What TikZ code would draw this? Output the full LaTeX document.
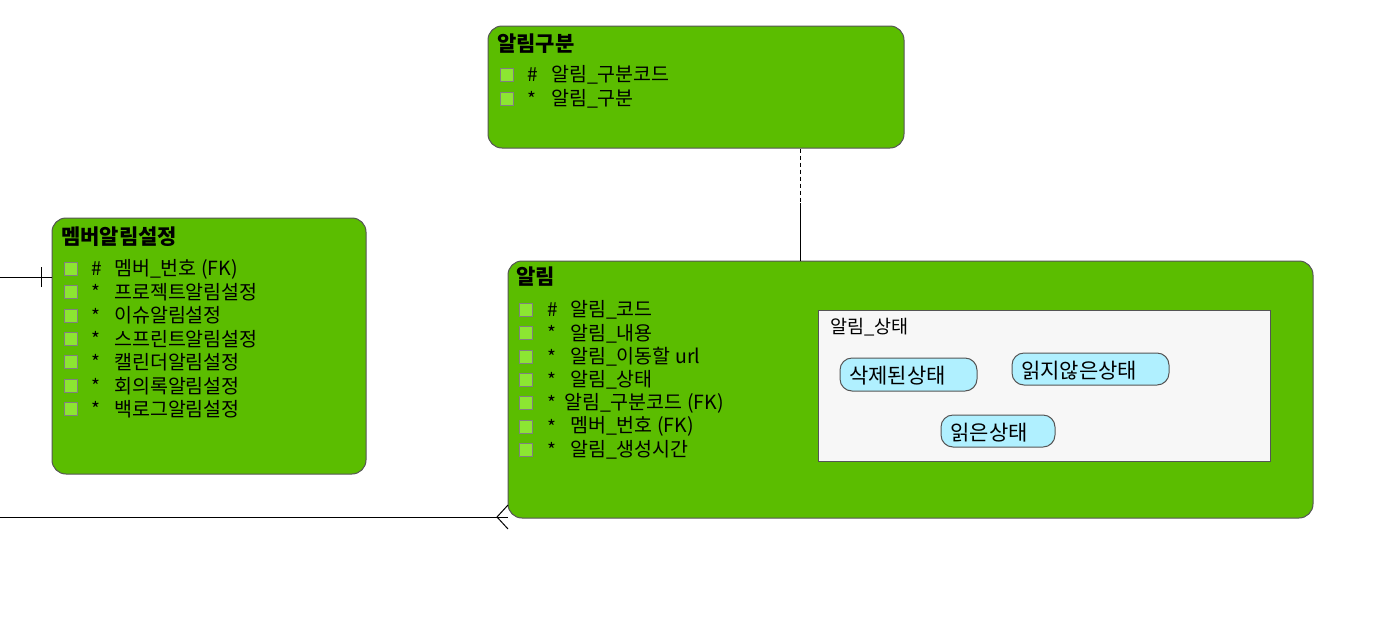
\documentclass[tikz,border=0pt]{standalone}
\usepackage{fontspec}
\setmainfont{Noto Sans CJK KR}
\definecolor{entgreen}{RGB}{91,189,0}
\definecolor{sqgreen}{RGB}{140,230,50}
\definecolor{bordgray}{RGB}{85,85,85}
\definecolor{panelgray}{RGB}{247,247,247}
\definecolor{pillcyan}{RGB}{176,240,255}
\newcommand{\myast}{\raisebox{-3pt}{*}}
\tikzset{
  entity/.style={draw=bordgray, line width=1pt, fill=entgreen, rounded corners=14pt, inner sep=0pt},
  etitle/.style={anchor=west, inner sep=0pt, font=\fontsize{21}{23}\selectfont\bfseries},
  attrsq/.style={draw=gray, line width=1pt, fill=sqgreen, minimum size=13pt, inner sep=0pt},
  attrmark/.style={anchor=west, inner sep=0pt, font=\fontsize{19}{21}\selectfont},
  attrtxt/.style={anchor=west, inner sep=0pt, font=\fontsize{19.5}{21}\selectfont},
  panel/.style={draw=bordgray, line width=1pt, fill=panelgray, inner sep=0pt},
  pill/.style={draw=bordgray, line width=1pt, fill=pillcyan, rounded corners=12pt, inner sep=0pt},
  pilltxt/.style={inner sep=0pt, font=\fontsize{21}{23}\selectfont},
  conn/.style={line width=1pt, black},
}
\begin{document}
\begin{tikzpicture}[x=1pt,y=-1pt]
\useasboundingbox (0,0) rectangle (1387,625);
% entity boxes
\node[entity, minimum width=416pt, minimum height=122pt] (gubun) at (696,87) {};
\node[entity, minimum width=314pt, minimum height=256pt] (member) at (209,346) {};
\node[entity, minimum width=805pt, minimum height=257pt] (alrim) at (910.5,389.5) {};
% titles
\node[etitle] (t1) at (497,44) {알림구분};
\node[etitle] (t2) at (61,237) {멤버알림설정};
\node[etitle] (t3) at (516,277) {알림};
% 알림구분 attributes
\foreach \i/\m/\t in {0/\#/알림\_구분코드, 1/\myast/알림\_구분}{
  \node[attrsq] (gs\i) at (506.5,75+24*\i) {};
  \node[attrmark] (gm\i) at (527,75+24*\i) {\m};
  \node[attrtxt] (gt\i) at (551,75+24*\i) {\t};
}
% 멤버알림설정 attributes
\foreach \i/\m/\t in {0/\#/멤버\_번호 (FK), 1/\myast/프로젝트알림설정, 2/\myast/이슈알림설정, 3/\myast/스프린트알림설정, 4/\myast/캘린더알림설정, 5/\myast/회의록알림설정, 6/\myast/백로그알림설정}{
  \node[attrsq] (ms\i) at (71,269+23.35*\i) {};
  \node[attrmark] (mm\i) at (91,269+23.35*\i) {\m};
  \node[attrtxt] (mt\i) at (114,269+23.35*\i) {\t};
}
% 알림 attributes
\foreach \i/\m/\t/\xx in {0/\#/알림\_코드/570, 1/\myast/알림\_내용/570, 2/\myast/알림\_이동할 url/570, 3/\myast/알림\_상태/570, 4/\myast/알림\_구분코드 (FK)/564, 5/\myast/멤버\_번호 (FK)/570, 6/\myast/알림\_생성시간/570}{
  \node[attrsq] (as\i) at (525.5,310+23.35*\i) {};
  \node[attrmark] (am\i) at (547,310+23.35*\i) {\m};
  \node[attrtxt] (at\i) at (\xx,310+23.35*\i) {\t};
}
% 알림_상태 panel
\node[panel, minimum width=452pt, minimum height=151pt] (state) at (1044,385.5) {};
\node[attrtxt, font=\fontsize{18.5}{20}\selectfont] (statet) at (830,327) {알림\_상태};
\node[pill, minimum width=137pt, minimum height=33pt] (p1) at (908.5,374.5) {};
\node[pilltxt] (p1t) at (897.5,376) {삭제된상태};
\node[pill, minimum width=157pt, minimum height=32pt] (p2) at (1090.5,369) {};
\node[pilltxt] (p2t) at (1079,371) {읽지않은상태};
\node[pill, minimum width=114pt, minimum height=32pt] (p3) at (998,431) {};
\node[pilltxt] (p3t) at (989,433) {읽은상태};
% connectors
\coordinate (vx) at (800,0);
\coordinate (vmid) at (800,203);
\draw[conn, dash pattern=on 4pt off 3pt] (gubun.south -| vx) -- (vmid);
\draw[conn] (vmid) -- (alrim.north -| vx);
\coordinate (lstart) at (0,277);
\draw[conn] (lstart) -- (lstart -| member.west);
\coordinate (tick) at (41,277);
\draw[conn] ([yshift=-10pt]tick) -- ([yshift=10pt]tick);
\coordinate (bstart) at (0,517);
\coordinate (bend) at (508,517);
\coordinate (crow) at (497,517);
\coordinate (crowa) at (508,505);
\coordinate (crowb) at (508,529);
\draw[conn] (bstart) -- (bend);
\draw[conn] (crowa) -- (crow) -- (crowb);
\end{tikzpicture}
\end{document}
